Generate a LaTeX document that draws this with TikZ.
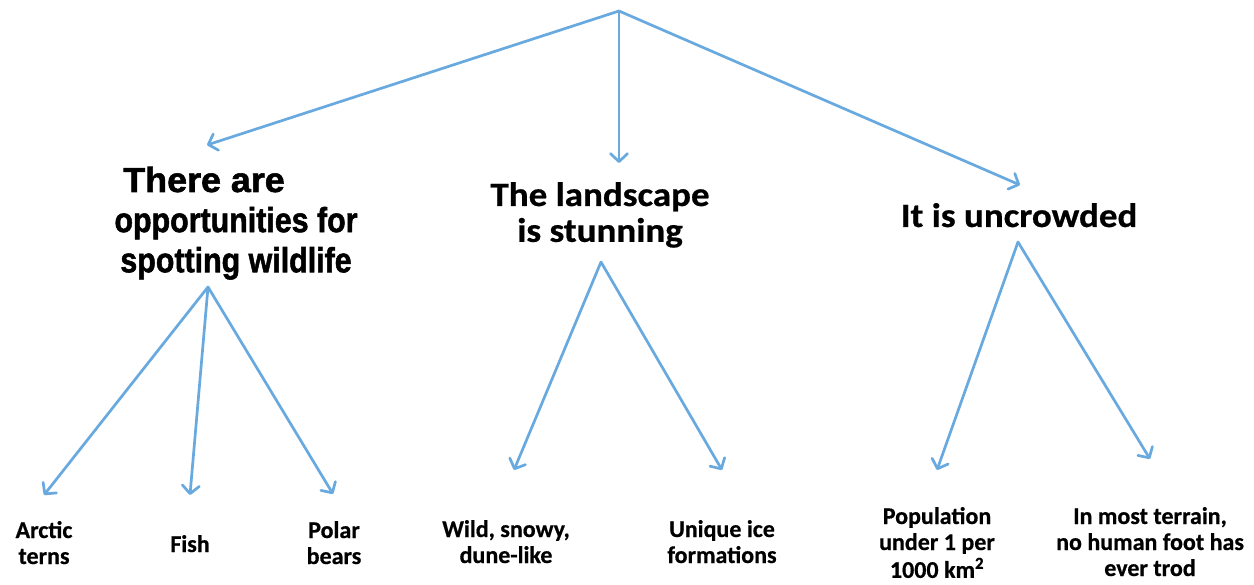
\documentclass[tikz,border=0pt]{standalone}
\usepackage{fontspec}
\usepackage{graphicx}
\setmainfont{Carlito}[BoldFeatures={FakeBold=0.6}]
\newfontfamily\arialbold{Liberation Sans Bold}[FakeBold=1.6]
\usetikzlibrary{arrows.meta}
\definecolor{linkblue}{HTML}{68AADF}
\tikzset{
  link/.style={draw=linkblue, line width=2.7pt, line cap=round,
    -{Straight Barb[length=8pt, width=17pt, line width=2.7pt, line cap=round, line join=round]}},
  topic/.style={anchor=base, inner sep=0pt, font=\bfseries},
  leaf/.style={anchor=base, inner sep=0pt, font=\bfseries\fontsize{24}{26}\selectfont},
}
\begin{document}
\begin{tikzpicture}[x=1pt, y=-1pt]
  \useasboundingbox[fill=white] (0,0) rectangle (1254,585);

  % headings (first line of the left one sits a little to the left, set wider)
  \node[topic] (wild) at (236,192) {\scalebox{1.03}[1.18]{\arialbold\fontsize{29.5}{34}\selectfont
    \begin{tabular}[t]{@{}c@{}}\makebox[0pt]{\scalebox{1.18}[1]{There are}\hspace*{62pt}}\\
      opportunities for\\spotting wildlife\end{tabular}}};
  \node[topic] (land) at (600,206) {\scalebox{1}[0.92]{\fontsize{37}{39}\selectfont
    \begin{tabular}[t]{@{}c@{}}The landscape\\is stunning\end{tabular}}};
  \node[topic] (crowd) at (1019,227) {\scalebox{1}[0.92]{\fontsize{37}{39}\selectfont It is uncrowded}};

  % leaves
  \node[leaf] (terns) at (44,538) {\begin{tabular}[t]{@{}c@{}}Arctic\\terns\end{tabular}};
  \node[leaf] (fish) at (190,552) {Fish};
  \node[leaf] (bears) at (334,538) {\begin{tabular}[t]{@{}c@{}}Polar\\bears\end{tabular}};
  \node[leaf] (dune) at (506,537) {\begin{tabular}[t]{@{}c@{}}Wild, snowy,\\dune-like\end{tabular}};
  \node[leaf] (ice) at (722,537) {\begin{tabular}[t]{@{}c@{}}Unique ice\\formations\end{tabular}};
  \node[leaf] (pop) at (937,524) {\begin{tabular}[t]{@{}c@{}}Population\\under 1 per\\1000 km\textsuperscript{2}\end{tabular}};
  \node[leaf] (foot) at (1150,524) {\begin{tabular}[t]{@{}c@{}}In most terrain,\\no human foot has\\ever trod\end{tabular}};

  % branch points and arrow ends
  \coordinate (root) at (619,11);
  \coordinate (wildIn) at (207,145);
  \coordinate (landIn) at (619,163);
  \coordinate (crowdIn) at (1020,185);
  \coordinate (wildOut) at (208,287);
  \coordinate (landOut) at (601,262);
  \coordinate (crowdOut) at (1018,242);
  \coordinate (ternsIn) at (44,495);
  \coordinate (fishIn) at (190,495);
  \coordinate (bearsIn) at (333,494);
  \coordinate (duneIn) at (514,470);
  \coordinate (iceIn) at (722,470);
  \coordinate (popIn) at (937,470);
  \coordinate (footIn) at (1150,459);

  \draw[link] (root) -- (wildIn);
  \draw[link] (root) -- (landIn);
  \draw[link] (root) -- (crowdIn);
  \draw[link] (wildOut) -- (ternsIn);
  \draw[link] (wildOut) -- (fishIn);
  \draw[link] (wildOut) -- (bearsIn);
  \draw[link] (landOut) -- (duneIn);
  \draw[link] (landOut) -- (iceIn);
  \draw[link] (crowdOut) -- (popIn);
  \draw[link] (crowdOut) -- (footIn);
\end{tikzpicture}
\end{document}
